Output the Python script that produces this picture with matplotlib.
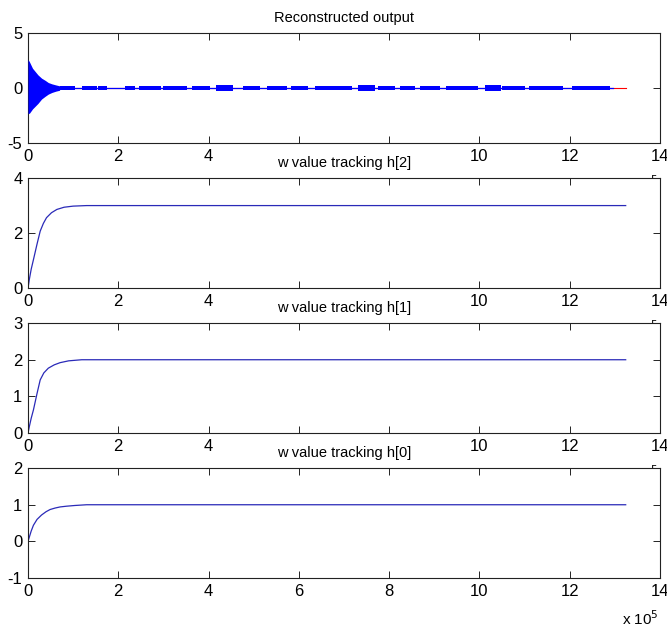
"""MATLAB-style figure: reconstructed output and LMS weight tracking."""

import matplotlib.pyplot as plt

plt.rcParams["font.family"] = ["Liberation Sans", "DejaVu Sans"]
plt.rcParams["axes.unicode_minus"] = False

# x values below are in units of 1e5 samples
# reconstructed output: initial decaying transient envelope
decay_x = [0.0, 0.03, 0.1, 0.22, 0.3, 0.38, 0.45, 0.53, 0.62, 0.7]
decay_hi = [2.6, 2.4, 1.8, 1.2, 0.9, 0.7, 0.5, 0.38, 0.28, 0.2]
decay_lo = [-2.3, -2.3, -1.9, -1.4, -1.0, -0.75, -0.55, -0.4, -0.28, -0.2]

# later bursts of residual output (start, end, half-amplitude)
burst_start = [0.7, 1.2, 1.55, 2.15, 2.45, 3.0, 3.64, 4.17, 4.77, 5.3, 5.83,
               6.36, 6.92, 7.32, 7.76, 8.25, 8.69, 9.25, 10.13, 10.5, 11.09, 12.06]
burst_end = [1.04, 1.53, 1.75, 2.37, 2.95, 3.52, 4.04, 4.55, 5.14, 5.74, 6.2,
             6.92, 7.18, 7.69, 8.14, 8.58, 9.13, 9.96, 10.47, 11.02, 11.86, 12.9]
burst_amp = [0.2, 0.2, 0.15, 0.2, 0.22, 0.22, 0.15, 0.3, 0.18, 0.22, 0.22,
             0.22, 0.15, 0.28, 0.18, 0.22, 0.18, 0.22, 0.3, 0.18, 0.18, 0.18]
x_end = 13.24

# weight tracking curves
h2_x = [0.0, 0.03, 0.07, 0.12, 0.2, 0.27, 0.34, 0.41, 0.52, 0.64, 0.8, 1.0, 1.3, 2.0, 13.24]
h2_y = [0.0, 0.32, 0.68, 1.03, 1.6, 2.07, 2.35, 2.56, 2.74, 2.86, 2.94, 2.98, 3.0, 3.0, 3.0]
h1_x = [0.0, 0.03, 0.07, 0.12, 0.2, 0.27, 0.35, 0.45, 0.58, 0.71, 0.9, 1.19, 2.0, 13.24]
h1_y = [0.0, 0.18, 0.4, 0.63, 1.08, 1.45, 1.64, 1.77, 1.86, 1.92, 1.97, 2.0, 2.0, 2.0]
h0_x = [0.0, 0.03, 0.07, 0.12, 0.2, 0.3, 0.4, 0.49, 0.6, 0.71, 0.85, 1.04, 1.3, 2.0, 13.24]
h0_y = [0.0, 0.12, 0.28, 0.44, 0.6, 0.72, 0.81, 0.87, 0.91, 0.94, 0.96, 0.98, 1.0, 1.0, 1.0]

titles = ["Reconstructed output", "w value tracking h[2]",
          "w value tracking h[1]", "w value tracking h[0]"]
ylims = [(-5, 5), (0, 4), (0, 3), (-1, 2)]
yticks = [[-5, 0, 5], [0, 2, 4], [0, 1, 2, 3], [-1, 0, 1, 2]]
xticks = [0, 2, 4, 6, 8, 10, 12, 14]

fig = plt.figure(figsize=(6.67, 6.28), dpi=100)
bottoms = [0.7723, 0.5414, 0.3105, 0.0796]
axes = [fig.add_axes([0.042, b, 0.9475, 0.175]) for b in bottoms]

ax = axes[0]
ax.plot([0, x_end], [0, 0], color="red", lw=0.8, zorder=1)
ax.plot([0, 12.95], [0, 0], color="blue", lw=0.9, zorder=2)
ax.fill_between(decay_x, decay_lo, decay_hi, color="blue", lw=0, zorder=3)
for s, e, a in zip(burst_start, burst_end, burst_amp):
    ax.fill_between([s, e], [-a, -a], [a, a], color="blue", lw=0, zorder=3)

for ax, xs, ys in zip(axes[1:], [h2_x, h1_x, h0_x], [h2_y, h1_y, h0_y]):
    ax.plot(xs, ys, color="#2a2ab8", lw=0.9)

for i, (ax, title, ylim, yt) in enumerate(zip(axes, titles, ylims, yticks)):
    ax.set_xlim(0, 14)
    ax.set_ylim(*ylim)
    ax.set_xticks(xticks)
    if i < 3:
        # labels 6 and 8 sit under the next title in the original
        ax.set_xticklabels(["" if t in (6, 8) else str(t) for t in xticks])
    ax.set_yticks(yt)
    ax.set_title(title, fontsize=10.5, pad=8)
    ax.tick_params(direction="in", top=True, right=True, length=5,
                   width=0.6, labelsize=12, pad=4)
    for spine in ax.spines.values():
        spine.set_linewidth(0.8)
        spine.set_color("#222222")
    ax.text(0.998, -0.37, r"x 10$^{5}$", transform=ax.transAxes,
            ha="right", va="center", fontsize=11, clip_on=False)

fig.savefig("out.png", dpi=100)
